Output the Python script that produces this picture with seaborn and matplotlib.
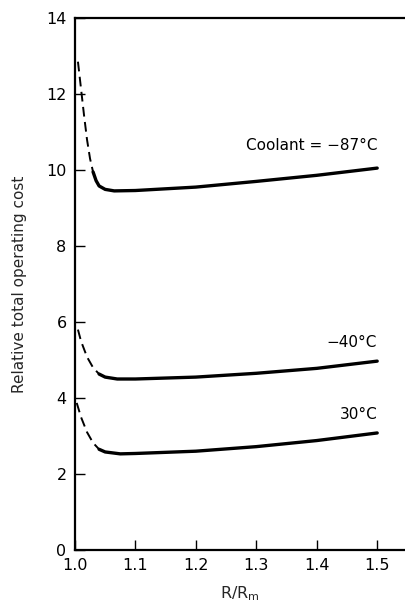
import numpy as np
import pandas as pd
import matplotlib
matplotlib.use("Agg")
import matplotlib.pyplot as plt
import seaborn as sns

# Curves: dashed (steep start) + solid part for each coolant
c87_dash_x = [1.005, 1.01, 1.015, 1.02, 1.025, 1.03]
c87_dash_y = [12.85, 12.15, 11.45, 10.8, 10.3, 9.95]
c87_x = [1.03, 1.035, 1.04, 1.05, 1.065, 1.1, 1.2, 1.3, 1.4, 1.5]
c87_y = [9.95, 9.72, 9.58, 9.49, 9.45, 9.46, 9.55, 9.7, 9.86, 10.05]

c40_dash_x = [1.005, 1.01, 1.02, 1.03, 1.04]
c40_dash_y = [5.8, 5.5, 5.08, 4.8, 4.63]
c40_x = [1.04, 1.05, 1.07, 1.1, 1.2, 1.3, 1.4, 1.5]
c40_y = [4.63, 4.55, 4.5, 4.5, 4.55, 4.65, 4.78, 4.97]

c30_dash_x = [1.003, 1.01, 1.02, 1.03, 1.04]
c30_dash_y = [3.87, 3.5, 3.1, 2.82, 2.65]
c30_x = [1.04, 1.05, 1.075, 1.1, 1.2, 1.3, 1.4, 1.5]
c30_y = [2.65, 2.58, 2.53, 2.54, 2.6, 2.72, 2.88, 3.08]

labels = ["Coolant = \u221287\u00b0C", "\u221240\u00b0C", "30\u00b0C"]
label_y = [10.45, 5.26, 3.37]

sns.set_style("ticks")
plt.rcParams['font.family'] = ['DejaVu Sans']

fig = plt.figure(figsize=(4.05, 6.08), dpi=100)
ax = fig.add_axes([0.185, 0.0954, 0.815, 0.8750])

dashed = [(c87_dash_x, c87_dash_y), (c40_dash_x, c40_dash_y), (c30_dash_x, c30_dash_y)]
solid = [(c87_x, c87_y), (c40_x, c40_y), (c30_x, c30_y)]

for x, y in dashed:
    line = sns.lineplot(x=x, y=y, ax=ax, color='black', lw=1.4,
                        sort=False, estimator=None).lines[-1]
    line.set_dashes([5, 2.8])
for x, y in solid:
    sns.lineplot(x=x, y=y, ax=ax, color='black', lw=2.4, sort=False, estimator=None,
                 solid_capstyle='round')

for txt, yy in zip(labels, label_y):
    ax.text(1.5, yy, txt, ha='right', va='bottom', fontsize=11, color='black')

ax.set_xlim(1.0, 1.546)
ax.set_ylim(0, 14)
ax.set_xticks([1.0, 1.1, 1.2, 1.3, 1.4, 1.5])
ax.set_yticks([0, 2, 4, 6, 8, 10, 12, 14])
ax.set_xticklabels(["1.0", "1.1", "1.2", "1.3", "1.4", "1.5"])
ax.tick_params(direction='in', length=7, width=1, labelsize=11.5, colors='black', pad=6)
ax.spines['right'].set_visible(False)
for s in ['left', 'bottom', 'top']:
    ax.spines[s].set_linewidth(1.6)
    ax.spines[s].set_color('black')

ax.set_xlabel("R/R$_\\mathregular{m}$", fontsize=11.5, labelpad=8)
ax.set_ylabel("Relative total operating cost", fontsize=11, labelpad=14)

fig.savefig("out.png", dpi=100)
